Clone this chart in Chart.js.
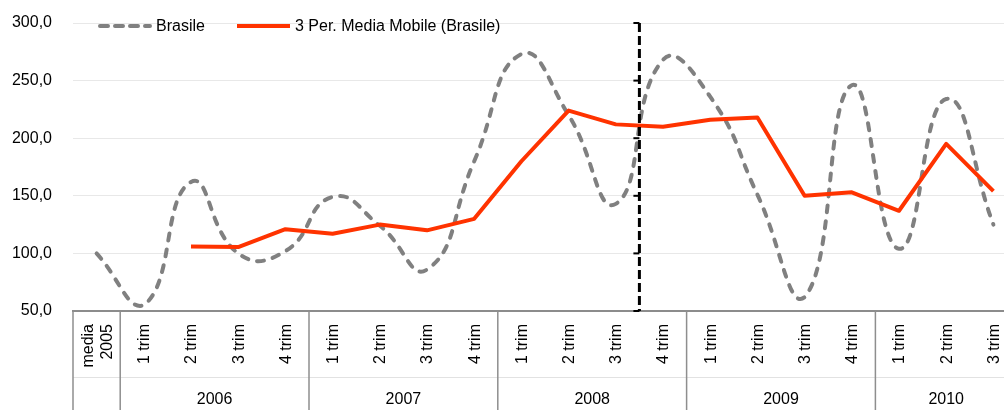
<!DOCTYPE html>
<html><head><meta charset="utf-8">
<script src="https://cdn.jsdelivr.net/npm/chart.js@4/dist/chart.umd.min.js"></script>
<style>
html,body{margin:0;padding:0;overflow:hidden;background:#fff;width:1004px;height:410px}
canvas{display:block}
</style>
</head><body>
<canvas id="c" width="1017" height="410"></canvas>
<script>
// ---- data ----
const categories = [['media','2005'],'1 trim','2 trim','3 trim','4 trim','1 trim','2 trim','3 trim','4 trim','1 trim','2 trim','3 trim','4 trim','1 trim','2 trim','3 trim','4 trim','1 trim','2 trim','3 trim'];
const yearOfCategory = ['', '2006','2006','2006','2006','2007','2007','2007','2007','2008','2008','2008','2008','2009','2009','2009','2009','2010','2010','2010'];
const brasile = [100,55,162,100,102,149,124,86,180,273,220,143,268,236,151,62,246,104,234,125];
const mediaMobile = [null,null,106,105.5,121,117,125,120,130,180,224,212,210,216,218,150,153,137,195,154];
const seriesLabels = ['Brasile','3 Per. Media Mobile (Brasile)'];
const yMin = 50, yMax = 300, yStep = 50;
const markerAfterIndex = 11; // dashed vertical separator after "3 trim 2008"

const FONT = '16px "Liberation Sans", Arial, sans-serif';

const overlay = {
  id: 'overlay',
  afterDraw(chart) {
    const ctx = chart.ctx;
    const xs = chart.scales.x, ys = chart.scales.y;
    const ca = chart.chartArea;
    const H = chart.height;
    const half = (xs.getPixelForValue(1) - xs.getPixelForValue(0)) / 2;
    ctx.save();
    // faint separator line between rows
    ctx.strokeStyle = '#e2e2e2';
    ctx.lineWidth = 1;
    ctx.beginPath(); ctx.moveTo(ca.left, 377.5); ctx.lineTo(ca.right, 377.5); ctx.stroke();
    // dividers
    ctx.strokeStyle = '#8e8e8e';
    ctx.lineWidth = 1.5;
    for (let i = 0; i < categories.length; i++) {
      if (i === 0 || yearOfCategory[i] !== yearOfCategory[i-1]) {
        const x = xs.getPixelForValue(i) - half;
        ctx.beginPath(); ctx.moveTo(x, ca.bottom); ctx.lineTo(x, H); ctx.stroke();
      }
    }
    // rotated category labels
    ctx.fillStyle = '#000';
    ctx.font = FONT;
    for (let i = 0; i < categories.length; i++) {
      const lines = Array.isArray(categories[i]) ? categories[i] : [categories[i]];
      const x = xs.getPixelForValue(i);
      ctx.save();
      ctx.translate(x, ca.bottom + 13);
      ctx.rotate(-Math.PI / 2);
      ctx.textAlign = 'right';
      ctx.textBaseline = 'middle';
      const sp = 19;
      lines.forEach((t, j) => ctx.fillText(t, 0, (j - (lines.length - 1) / 2) * sp + 1));
      ctx.restore();
    }
    // year labels
    ctx.textAlign = 'center';
    ctx.textBaseline = 'middle';
    let start = 0;
    for (let i = 1; i <= categories.length; i++) {
      if (i === categories.length || yearOfCategory[i] !== yearOfCategory[start]) {
        if (yearOfCategory[start]) {
          const l = xs.getPixelForValue(start) - half;
          const r = xs.getPixelForValue(i - 1) + half;
          ctx.fillText(yearOfCategory[start], (l + r) / 2, 400);
        }
        start = i;
      }
    }
    // dashed vertical marker
    const mx = (xs.getPixelForValue(markerAfterIndex) + xs.getPixelForValue(markerAfterIndex + 1)) / 2;
    ctx.strokeStyle = '#000';
    ctx.lineWidth = 3;
    ctx.setLineDash([9, 4]);
    ctx.beginPath(); ctx.moveTo(mx, ca.top); ctx.lineTo(mx, ca.bottom); ctx.stroke();
    ctx.setLineDash([]);
    ctx.lineWidth = 2;
    for (let v = yMin; v <= yMax; v += yStep) {
      const y = ys.getPixelForValue(v);
      ctx.beginPath(); ctx.moveTo(mx - 6, y); ctx.lineTo(mx, y); ctx.stroke();
    }
    // legend
    const ly = 26;
    const d0 = chart.data.datasets[0], d1 = chart.data.datasets[1];
    ctx.lineCap = 'round';
    ctx.strokeStyle = d0.borderColor; ctx.lineWidth = 4;
    ctx.setLineDash([8, 7]);
    ctx.beginPath(); ctx.moveTo(100, ly); ctx.lineTo(150, ly); ctx.stroke();
    ctx.setLineDash([]);
    ctx.lineCap = 'butt';
    ctx.strokeStyle = d1.borderColor;
    ctx.beginPath(); ctx.moveTo(237, ly); ctx.lineTo(290, ly); ctx.stroke();
    ctx.fillStyle = '#000';
    ctx.textAlign = 'left';
    ctx.textBaseline = 'middle';
    ctx.fillText(d0.label, 156, ly + 1);
    ctx.fillText(d1.label, 295, ly + 1);
    ctx.restore();
  }
};

new Chart(document.getElementById('c'), {
  type: 'line',
  data: {
    labels: categories,
    datasets: [
      { label: seriesLabels[0], data: brasile, borderColor: '#808080', borderWidth: 4,
        borderDash: [7, 9], borderCapStyle: 'round', tension: 0.5, pointRadius: 0, fill: false, order: 2 },
      { label: seriesLabels[1], data: mediaMobile, borderColor: '#ff3300', borderWidth: 4,
        tension: 0, pointRadius: 0, fill: false, order: 1, borderJoinStyle: 'round' }
    ]
  },
  options: {
    responsive: false,
    animation: false,
    devicePixelRatio: 1,
    layout: { padding: { top: 23, left: 0, right: 0, bottom: 0 } },
    plugins: { legend: { display: false }, tooltip: { enabled: false }, title: { display: false } },
    scales: {
      x: {
        offset: true,
        grid: { display: false, drawTicks: false },
        border: { display: true, color: '#8c8c8c', width: 2 },
        ticks: { display: false },
        afterFit(s) { s.height = 99; }
      },
      y: {
        min: yMin, max: yMax,
        grid: { color: '#e8e8e8', lineWidth: 1, drawTicks: true, tickLength: 21, tickColor: 'rgba(0,0,0,0)' },
        border: { display: false },
        ticks: {
          stepSize: yStep, padding: 0, color: '#000',
          font: { family: '"Liberation Sans", Arial, sans-serif', size: 16 },
          callback: v => v.toFixed(1).replace('.', ',')
        },
        afterFit(s) { s.width = 73; }
      }
    }
  },
  plugins: [overlay]
});
</script>
</body></html>
